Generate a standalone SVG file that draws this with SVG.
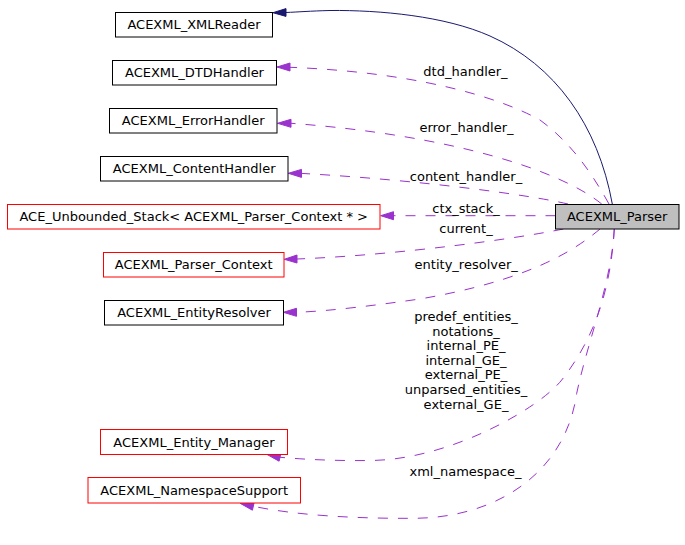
<svg xmlns="http://www.w3.org/2000/svg" width="685" height="545" viewBox="0 0 685 545">
<style>
  .box { fill: #ffffff; stroke: #000000; stroke-width: 1; }
  .red { stroke: #ff0000; }
  .main { fill: #bfbfbf; }
  .lbl { font-family: "DejaVu Sans", "Liberation Sans", sans-serif; font-size: 13px; fill: #000000; text-anchor: middle; }
  .inh { fill: none; stroke: #191970; stroke-width: 1; }
  .inh-head { fill: #191970; stroke: #191970; stroke-width: 1; }
  .use { fill: none; stroke: #9a32cd; stroke-width: 1; stroke-dasharray: 10,10; }
  .use-head { fill: #9a32cd; stroke: #9a32cd; stroke-width: 1; }
</style>
<rect x="0" y="0" width="685" height="545" fill="#ffffff"/>

<g id="connectors">
  <path class="inh" d="M612.3,204 C598,125 555,65 490,36 C445,16 380,10 330,10.5 C310,11 298,12 286,12.5"/>
  <polygon class="inh-head" points="273,12.7 286,8.6 286,16.4"/>

  <path class="use" d="M609,204 C590,170 570,142 540,120 C495,95 410,72 290,67.3"/>
  <polygon class="use-head" points="277,67 290,63 290,71"/>

  <path class="use" d="M601.7,204 C560,170 450,135 291,123.3"/>
  <polygon class="use-head" points="277.5,123.3 291,119.3 291,127.3"/>

  <path class="use" d="M568,204 C530,195 420,180 301.5,173.4"/>
  <polygon class="use-head" points="288.3,173.3 301.5,169.4 301.5,177.4"/>

  <path class="use" d="M555.5,215.7 L393.5,215.7"/>
  <polygon class="use-head" points="380.7,215.7 393.5,211.7 393.5,219.7"/>

  <path class="use" d="M563.3,229 C520,238 400,255 297,259"/>
  <polygon class="use-head" points="284.3,259.3 297,255 297,263"/>

  <path class="use" d="M600,229 C575,250 530,280 420,299 C370,306 330,311 296.5,312.3"/>
  <polygon class="use-head" points="283.3,312.3 296.5,308.3 296.5,316.3"/>

  <path class="use" d="M614.3,229 C611,285 597,335 561.7,380 C540,407.7 450,460 370,460.5 C330,461 300,459 280,457.3"/>
  <polygon class="use-head" points="266.7,454.3 280.9,453.4 279.1,461.2"/>

  <path class="use" d="M614.3,229 C611,285 588,340 576.7,393.3 C566,470 500,518 413.3,518.3 C360,518.6 300,516 253.3,506.3"/>
  <polygon class="use-head" points="240.3,503.4 254.2,502.4 252.4,510.2"/>

  <text class="lbl" x="465.5" y="75.5">dtd_handler_</text>
  <text class="lbl" x="466.5" y="132.3">error_handler_</text>
  <text class="lbl" x="466" y="180.7">content_handler_</text>
  <text class="lbl" x="466" y="212.5">ctx_stack_</text>
  <text class="lbl" x="466" y="232.7">current_</text>
  <text class="lbl" x="466.2" y="268.5">entity_resolver_</text>
  <text class="lbl" x="466" y="321">predef_entities_</text>
  <text class="lbl" x="466" y="335.6">notations_</text>
  <text class="lbl" x="466" y="350.2">internal_PE_</text>
  <text class="lbl" x="466" y="364.8">internal_GE_</text>
  <text class="lbl" x="466" y="379.4">external_PE_</text>
  <text class="lbl" x="466" y="394">unparsed_entities_</text>
  <text class="lbl" x="466" y="408.6">external_GE_</text>
  <text class="lbl" x="465.5" y="476">xml_namespace_</text>
</g>

<g id="node-parser">
  <rect class="box main" x="555.5" y="204.5" width="123.5" height="24.5"/>
  <text class="lbl" x="617.2" y="221.3">ACEXML_Parser</text>
</g>
<g id="node-xmlreader">
  <rect class="box" x="115.5" y="12.5" width="157" height="24.5"/>
  <text class="lbl" x="194" y="29.3">ACEXML_XMLReader</text>
</g>
<g id="node-dtdhandler">
  <rect class="box" x="112.5" y="60.5" width="164" height="24.5"/>
  <text class="lbl" x="194.5" y="77.3">ACEXML_DTDHandler</text>
</g>
<g id="node-errorhandler">
  <rect class="box" x="109.5" y="108.5" width="167.5" height="24.5"/>
  <text class="lbl" x="193.2" y="125.3">ACEXML_ErrorHandler</text>
</g>
<g id="node-contenthandler">
  <rect class="box" x="100.5" y="156.5" width="187.5" height="24.5"/>
  <text class="lbl" x="194.2" y="173.3">ACEXML_ContentHandler</text>
</g>
<g id="node-unbounded-stack">
  <rect class="box red" x="7.5" y="204.5" width="372.5" height="24.5"/>
  <text class="lbl" x="193.7" y="221.3">ACE_Unbounded_Stack&lt; ACEXML_Parser_Context * &gt;</text>
</g>
<g id="node-parser-context">
  <rect class="box red" x="103.5" y="252.5" width="180.5" height="24.5"/>
  <text class="lbl" x="193.7" y="269.3">ACEXML_Parser_Context</text>
</g>
<g id="node-entityresolver">
  <rect class="box" x="104.5" y="300.5" width="179" height="24.5"/>
  <text class="lbl" x="194" y="317.3">ACEXML_EntityResolver</text>
</g>
<g id="node-entity-manager">
  <rect class="box red" x="100.5" y="429.5" width="187" height="25"/>
  <text class="lbl" x="194" y="446.5">ACEXML_Entity_Manager</text>
</g>
<g id="node-namespacesupport">
  <rect class="box red" x="88" y="477.5" width="212.5" height="25.5"/>
  <text class="lbl" x="194.2" y="494.8">ACEXML_NamespaceSupport</text>
</g>
</svg>
